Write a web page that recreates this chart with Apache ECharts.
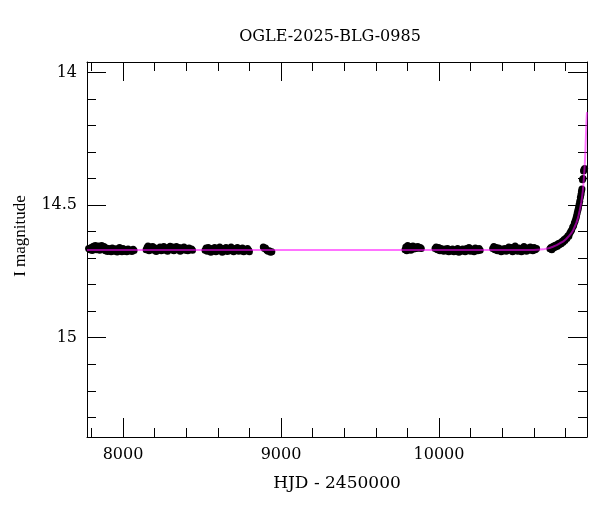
<!DOCTYPE html>
<html>
<head>
<meta charset="utf-8">
<script src="https://cdn.jsdelivr.net/npm/echarts@6/dist/echarts.min.js"></script>
<style>
html,body{margin:0;padding:0;background:#fff;}
#chart{width:600px;height:512px;}
</style>
</head>
<body>
<div id="chart"></div>
<script>
const titleText = 'OGLE-2025-BLG-0985';
const xName = 'HJD - 2450000';
const yName = 'I magnitude';
const xRange = [7772, 10937];
const yRange = [13.961, 15.374];

const season1 = [[7782,14.664],[7790,14.668],[7798,14.660],[7805,14.671],[7812,14.655],[7818,14.662],[7825,14.652],[7831,14.668],[7838,14.657],[7845,14.654],[7852,14.670],[7858,14.660],[7865,14.652],[7872,14.666],[7880,14.656],[7888,14.672],[7895,14.662],[7902,14.675],[7910,14.664],[7918,14.670],[7925,14.676],[7932,14.662],[7940,14.668],[7948,14.674],[7955,14.665],[7963,14.677],[7970,14.668],[7978,14.660],[7985,14.672],[7993,14.676],[8000,14.664],[8008,14.674],[8016,14.668],[8024,14.676],[8032,14.666],[8040,14.672],[8048,14.670],[8056,14.675],[8064,14.667],[8070,14.671]];
const season2 = [[8146,14.668],[8152,14.660],[8158,14.654],[8165,14.672],[8172,14.658],[8180,14.664],[8188,14.656],[8195,14.670],[8203,14.662],[8210,14.675],[8218,14.664],[8226,14.668],[8234,14.658],[8242,14.672],[8250,14.664],[8258,14.656],[8266,14.670],[8274,14.662],[8282,14.674],[8290,14.660],[8298,14.655],[8306,14.668],[8314,14.658],[8322,14.672],[8330,14.664],[8338,14.656],[8346,14.668],[8354,14.660],[8362,14.674],[8370,14.662],[8378,14.668],[8386,14.658],[8394,14.670],[8402,14.664],[8410,14.672],[8418,14.662],[8426,14.668],[8434,14.666],[8440,14.670]];
const season3 = [[8519,14.670],[8526,14.662],[8533,14.674],[8540,14.660],[8548,14.668],[8556,14.678],[8564,14.664],[8572,14.672],[8580,14.660],[8588,14.676],[8596,14.666],[8604,14.672],[8612,14.658],[8620,14.668],[8628,14.678],[8636,14.664],[8644,14.670],[8652,14.660],[8660,14.675],[8668,14.666],[8676,14.672],[8684,14.658],[8692,14.668],[8700,14.676],[8708,14.664],[8716,14.670],[8724,14.660],[8732,14.674],[8740,14.666],[8748,14.672],[8756,14.662],[8764,14.676],[8772,14.668],[8780,14.672],[8788,14.664],[8796,14.670],[8800,14.676]];
const season4 = [[8888,14.658],[8895,14.664],[8902,14.662],[8910,14.670],[8918,14.674],[8926,14.672],[8934,14.678],[8942,14.676]];
const season5 = [[9785,14.668],[9790,14.658],[9796,14.672],[9802,14.652],[9808,14.664],[9815,14.656],[9822,14.670],[9828,14.660],[9835,14.654],[9842,14.666],[9850,14.658],[9858,14.664],[9866,14.656],[9874,14.662],[9882,14.660],[9888,14.664]];
const season6 = [[9975,14.664],[9982,14.658],[9990,14.668],[9998,14.660],[10006,14.672],[10014,14.664],[10022,14.668],[10030,14.674],[10038,14.666],[10046,14.672],[10054,14.664],[10062,14.676],[10070,14.668],[10078,14.672],[10086,14.666],[10094,14.676],[10102,14.670],[10110,14.674],[10118,14.664],[10126,14.678],[10134,14.670],[10142,14.674],[10150,14.666],[10158,14.672],[10166,14.676],[10174,14.664],[10182,14.670],[10190,14.660],[10198,14.674],[10206,14.666],[10214,14.668],[10222,14.676],[10230,14.662],[10238,14.668],[10246,14.672],[10254,14.664],[10261,14.670]];
const season7 = [[10340,14.664],[10347,14.656],[10354,14.668],[10362,14.660],[10370,14.672],[10378,14.662],[10386,14.668],[10394,14.676],[10402,14.666],[10410,14.672],[10418,14.664],[10426,14.674],[10434,14.668],[10442,14.658],[10450,14.670],[10458,14.660],[10466,14.676],[10474,14.664],[10482,14.654],[10490,14.668],[10498,14.674],[10506,14.662],[10514,14.670],[10522,14.676],[10530,14.664],[10538,14.656],[10546,14.668],[10554,14.674],[10562,14.662],[10570,14.670],[10578,14.658],[10586,14.666],[10594,14.672],[10602,14.660],[10610,14.668],[10618,14.664]];
const season8 = [[10702,14.665],[10708,14.660],[10714,14.668],[10720,14.656],[10726,14.662],[10732,14.652],[10738,14.658],[10744,14.650],[10750,14.655],[10756,14.645],[10762,14.650],[10768,14.642],[10774,14.646],[10780,14.636],[10786,14.640],[10792,14.630],[10798,14.634],[10804,14.624],[10810,14.626],[10816,14.616],[10822,14.618],[10828,14.606],[10834,14.600],[10840,14.594],[10846,14.584],[10852,14.578],[10857,14.568],[10862,14.560],[10867,14.550],[10871,14.540],[10875,14.530],[10879,14.520],[10883,14.510],[10887,14.498],[10891,14.486],[10895,14.472],[10899,14.460],[10902,14.448],[10905,14.440],[10908,14.405],[10912,14.400],[10915,14.372],[10918,14.366],[10922,14.362]];
const modelCurve = [[7772,14.669],[10600,14.669],[10660,14.667],[10700,14.662],[10721,14.657],[10745,14.651],[10765,14.644],[10785,14.638],[10805,14.628],[10822,14.617],[10838,14.606],[10850,14.594],[10862,14.578],[10870,14.566],[10876,14.556],[10884,14.538],[10890,14.522],[10896,14.505],[10901,14.489],[10906,14.468],[10910,14.450],[10914,14.425],[10918,14.392],[10921,14.365],[10924,14.333],[10926.5,14.300],[10928.5,14.266],[10931,14.225],[10933,14.195],[10935,14.170],[10937,14.150]];

const FONT = 'DejaVu Serif';
const allPoints = [].concat(season1, season2, season3, season4, season5, season6, season7, season8);

function axisCommon(showLabels, labelFmt) {
  return {
    type: 'value',
    splitNumber: 3,
    axisLine: { show: true, onZero: false, lineStyle: { color: '#000', width: 1 } },
    axisTick: { show: true, inside: true, length: 19, lineStyle: { color: '#000', width: 1 } },
    minorTick: { show: true, splitNumber: 5, length: 9, lineStyle: { color: '#000', width: 1 } },
    splitLine: { show: false },
    axisLabel: { show: showLabels, formatter: labelFmt, color: '#000', fontFamily: FONT, fontSize: 16, margin: 10 }
  };
}
const xFmt = v => (Math.abs(v % 1000) < 1e-6 ? String(v) : '');
const yFmt = v => (Math.abs(v * 2 - Math.round(v * 2)) < 1e-6 ? String(+v.toFixed(1)).replace(/\.0$/, '') : '');

const chart = echarts.init(document.getElementById('chart'), null, { renderer: 'canvas' });
chart.setOption({
  animation: false,
  backgroundColor: '#fff',
  title: {
    text: titleText, left: 325, top: 24, textAlign: 'center',
    textStyle: { fontFamily: FONT, fontSize: 16, fontWeight: 'normal', color: '#000' }
  },
  grid: { left: 87, right: 13, top: 62, bottom: 75, containLabel: false },
  xAxis: [
    Object.assign(axisCommon(true, xFmt), {
      position: 'bottom', min: xRange[0], max: xRange[1],
      name: xName, nameLocation: 'middle', nameGap: 38,
      nameTextStyle: { fontFamily: FONT, fontSize: 17, color: '#000' }
    }),
    Object.assign(axisCommon(false, xFmt), { position: 'top', min: xRange[0], max: xRange[1] })
  ],
  yAxis: [
    Object.assign(axisCommon(true, yFmt), {
      position: 'left', inverse: true, min: yRange[0], max: yRange[1],
      name: yName, nameLocation: 'middle', nameGap: 58, nameRotate: 90,
      nameTextStyle: { fontFamily: 'Liberation Serif', fontSize: 17, color: '#000', padding: [0, 0, 0, 27] }
    }),
    Object.assign(axisCommon(false, yFmt), { position: 'right', inverse: true, min: yRange[0], max: yRange[1] })
  ],
  series: [
    {
      type: 'scatter', xAxisIndex: 0, yAxisIndex: 0, data: allPoints,
      symbol: 'circle', symbolSize: 7, itemStyle: { color: '#000', opacity: 1 }, z: 2
    },
    {
      type: 'line', xAxisIndex: 0, yAxisIndex: 0, data: modelCurve,
      showSymbol: false, symbol: 'none', smooth: false, clip: true,
      lineStyle: { color: 'rgba(255,0,255,0.55)', width: 2 }, z: 3
    }
  ]
});
</script>
</body>
</html>
